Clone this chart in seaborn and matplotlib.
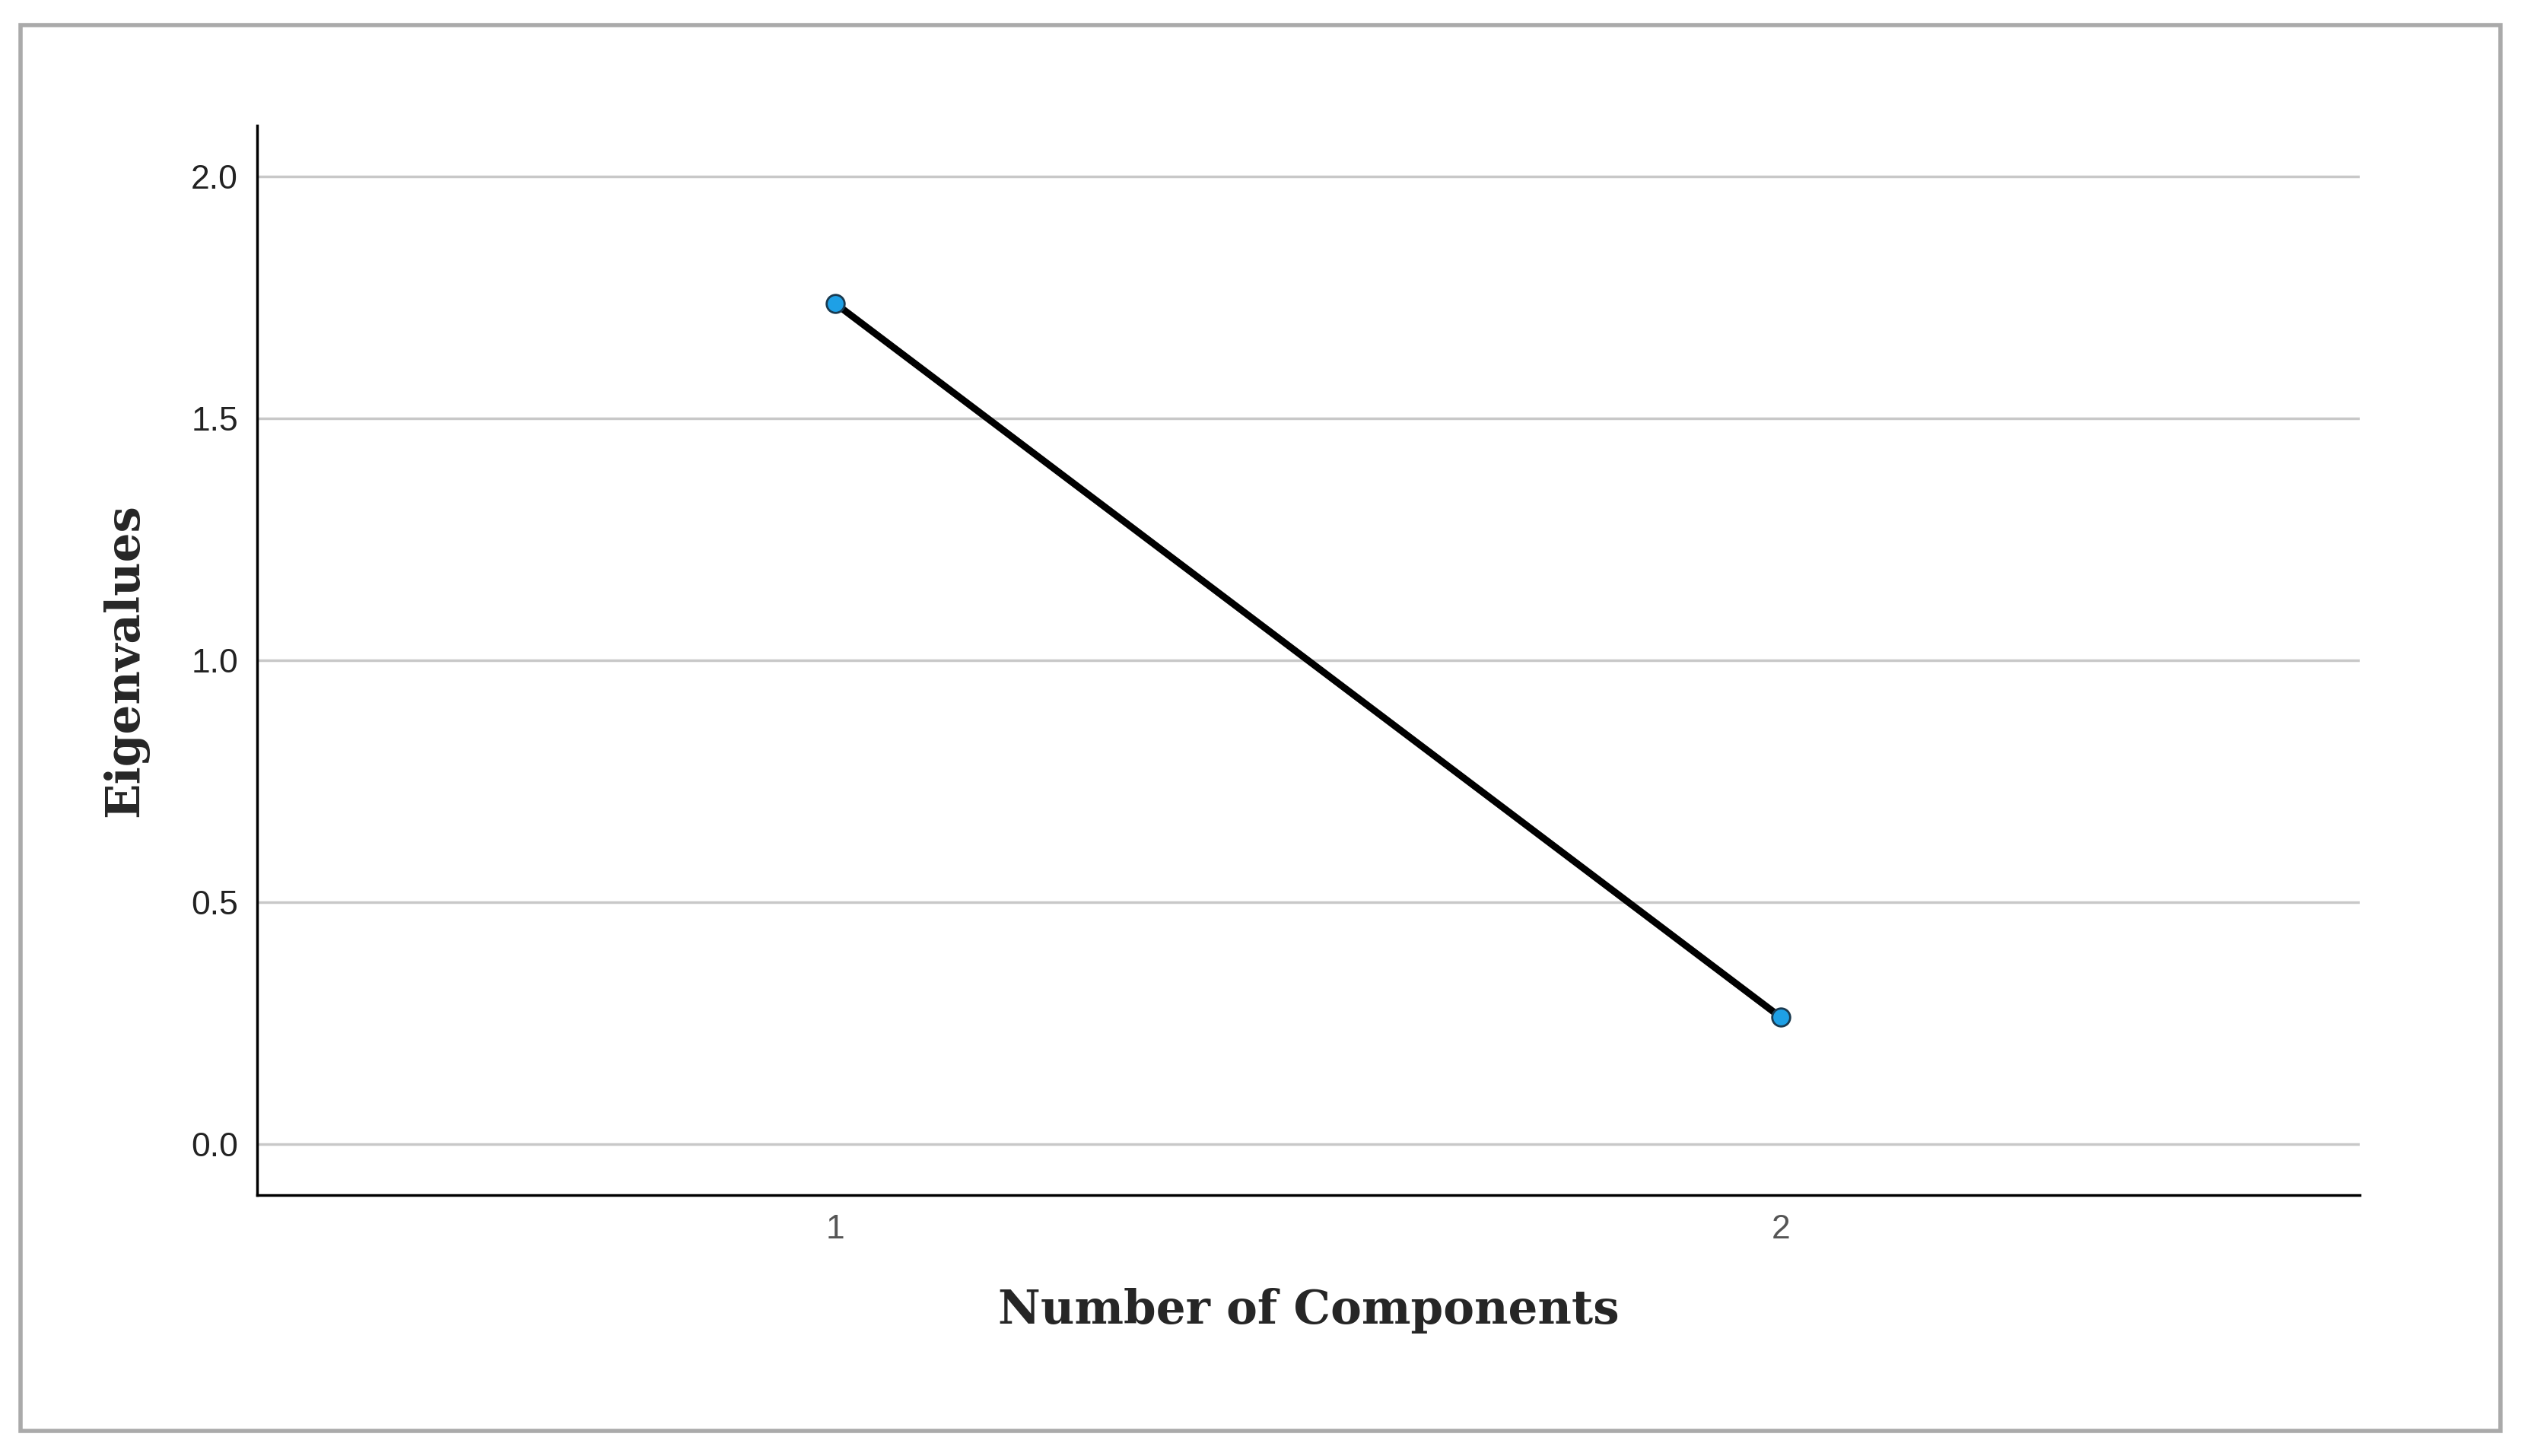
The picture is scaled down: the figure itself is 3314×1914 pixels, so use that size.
import matplotlib
matplotlib.use("Agg")
import matplotlib.pyplot as plt
import seaborn as sns
import pandas as pd
from matplotlib.patches import Rectangle

components = [1, 2]
eigenvalues = [1.738, 0.262]
y_ticks = [0.0, 0.5, 1.0, 1.5, 2.0]

df = pd.DataFrame({"Component": components, "Eigenvalue": eigenvalues})

sns.set_style("white")
fig = plt.figure(figsize=(33.14, 19.14), dpi=100)
ax = fig.add_axes([0.102, 0.179, 0.834, 0.735])

for t in y_ticks:
    ax.axhline(t, color="#c8c8c8", lw=2.5, zorder=0)

sns.lineplot(data=df, x="Component", y="Eigenvalue", ax=ax, color="black",
             lw=6.5, marker="o", markersize=17, markerfacecolor="#1ea0e6",
             markeredgecolor="#1a3a50", markeredgewidth=2)

ax.set_xlim(0.389, 2.612)
ax.set_ylim(-0.106, 2.106)
ax.set_xticks(components)
ax.set_xticklabels([str(c) for c in components], fontsize=32,
                   family="Liberation Sans", color="#555555")
ax.set_yticks(y_ticks)
ax.set_yticklabels([f"{t:.1f}" for t in y_ticks], fontsize=32,
                   family="Liberation Sans", color="#222222")
ax.tick_params(axis="both", length=0, pad=18)
ax.spines["top"].set_visible(False)
ax.spines["right"].set_visible(False)
for s in ("left", "bottom"):
    ax.spines[s].set_linewidth(2.5)
    ax.spines[s].set_color("black")

ax.set_xlabel("Number of Components", fontsize=44, fontweight="bold",
              family="DejaVu Serif", labelpad=40)
ax.set_ylabel("Eigenvalues", fontsize=44, fontweight="bold",
              family="DejaVu Serif", labelpad=40)

fig.patches.append(Rectangle((0.008, 0.017), 0.984, 0.966, transform=fig.transFigure,
                             fill=False, edgecolor="#aaaaaa", lw=4))

fig.savefig("out.png", dpi=100)
